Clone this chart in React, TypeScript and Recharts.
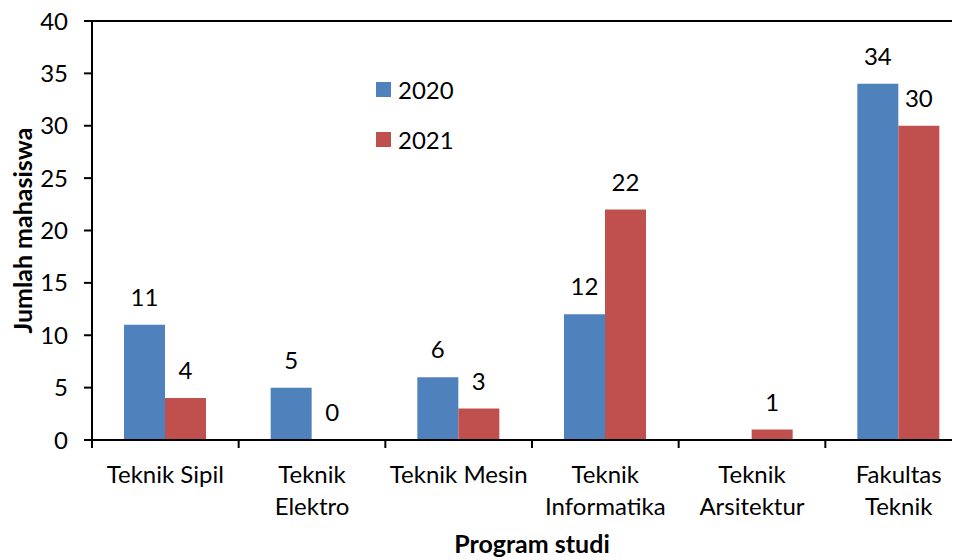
import * as React from 'react';
import { BarChart, Bar, XAxis, YAxis, LabelList, Legend, ReferenceLine } from 'recharts';

const categories = ['Teknik Sipil', 'Teknik Elektro', 'Teknik Mesin', 'Teknik Informatika', 'Teknik Arsitektur', 'Fakultas Teknik'];
const tickLines = [['Teknik Sipil'], ['Teknik', 'Elektro'], ['Teknik Mesin'], ['Teknik', 'Informatika'], ['Teknik', 'Arsitektur'], ['Fakultas', 'Teknik']];
const values2020 = [11, 5, 6, 12, null, 34];
const values2021 = [4, 0, 3, 22, 1, 30];
const yTicks = [0, 5, 10, 15, 20, 25, 30, 35, 40];

const data = categories.map((name, i) => ({ name, y2020: values2020[i], y2021: values2021[i] }));

const FONT = 'Lato, "Noto Sans", sans-serif';
const FS = 24;
const BLUE = '#4F81BD';
const RED = '#C0504D';

function CategoryTick(props: any) {
  const { x, y, payload, index } = props;
  const half = payload && payload.offset != null ? payload.offset : 0;
  const left = x - half;
  const lines = tickLines[index] || [payload.value];
  return (
    <g>
      <line x1={left} x2={left} y1={y} y2={y + 8} stroke="#000" strokeWidth={2} />
      <text x={x} y={y + 43} textAnchor="middle" fontFamily={FONT} fontSize={FS} fill="#000">
        {lines.map((l: string, i: number) => (
          <tspan key={i} x={x} dy={i === 0 ? 0 : 32}>{l}</tspan>
        ))}
      </text>
    </g>
  );
}

// draws the value above the bar, also for zero-height bars
function ValueLabel(props: any) {
  const { x, y, width, height, value } = props;
  if (value == null) return null;
  const top = value === 0 ? y + height : y;
  return (
    <text x={x + width / 2} y={top - 19} textAnchor="middle" fontFamily={FONT} fontSize={FS} fill="#000">
      {value}
    </text>
  );
}

// tiny size so that a zero bar still gets its label
const zeroSize = (v: any) => (v === 0 ? 0.2 : 0);

function LegendBox(props: any) {
  const items = props.payload || [];
  return (
    <div style={{ fontFamily: FONT, fontSize: FS, color: '#000' }}>
      {items.map((it: any) => (
        <div key={it.value} style={{ display: 'flex', alignItems: 'center', height: 50 }}>
          <span style={{ display: 'inline-block', width: 15, height: 15, background: it.color, marginRight: 7 }} />
          <span>{it.value}</span>
        </div>
      ))}
    </div>
  );
}

export default function App() {
  return (
    <BarChart
      width={980}
      height={552}
      data={data}
      margin={{ top: 13, right: 16, bottom: 0, left: 0 }}
      barCategoryGap={32}
      barGap={0}
    >
      <ReferenceLine y={40} stroke="#000" strokeWidth={2} />
      <XAxis
        dataKey="name"
        height={120}
        stroke="#000"
        strokeWidth={2}
        tickSize={0}
        tickMargin={0}
        tickLine={false}
        interval={0}
        tick={<CategoryTick />}
        label={{
          content: ({ viewBox }: any) => (
            <text x={viewBox.x + viewBox.width / 2} y={viewBox.y + 113} textAnchor="middle" fontFamily={FONT} fontWeight="bold" fontSize={25} fill="#000">
              Program studi
            </text>
          ),
        }}
      />
      <YAxis
        width={84}
        domain={[0, 40]}
        ticks={yTicks}
        interval={0}
        stroke="#000"
        strokeWidth={2}
        tickSize={8}
        tickMargin={16}
        tick={{ fill: '#000', fontSize: FS, fontFamily: FONT }}
        label={{
          content: ({ viewBox }: any) => {
            const cx = viewBox.x + 14;
            const cy = viewBox.y + viewBox.height / 2;
            return (
              <text x={cx} y={cy} transform={`rotate(-90, ${cx}, ${cy})`} textAnchor="middle" dominantBaseline="central" fontFamily={FONT} fontWeight="bold" fontSize={25} fill="#000">
                Jumlah mahasiswa
              </text>
            );
          },
        }}
      />
      <Legend
        layout="vertical"
        align="center"
        verticalAlign="middle"
        content={<LegendBox />}
        wrapperStyle={{ left: 368, top: 56, width: 120 }}
      />
      <Bar dataKey="y2020" name="2020" fill={BLUE} isAnimationActive={false}>
        <LabelList dataKey="y2020" content={<ValueLabel />} />
      </Bar>
      <Bar dataKey="y2021" name="2021" fill={RED} minPointSize={zeroSize} isAnimationActive={false}>
        <LabelList dataKey="y2021" content={<ValueLabel />} />
      </Bar>
    </BarChart>
  );
}
